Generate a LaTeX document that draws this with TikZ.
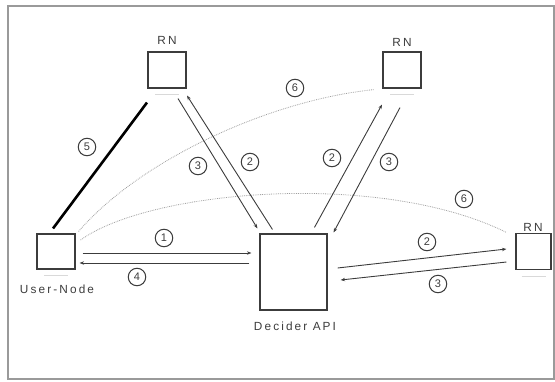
\documentclass[tikz,border=0pt]{standalone}
\usepackage{fontspec}
\usetikzlibrary{arrows.meta,calc}
\newfontfamily\lblfont[LetterSpace=18]{Liberation Sans}
\newfontfamily\numfont{Liberation Sans}
\definecolor{ln}{HTML}{3C3C3C}
\definecolor{fr}{HTML}{9A9A9A}
\begin{document}
\begin{tikzpicture}[x=1pt,y=-1pt,
  pc/.style={draw=ln,line width=1.1pt,inner sep=0pt,fill=white},
  lbl/.style={font=\lblfont\fontsize{11.8}{13}\selectfont,text=ln,inner sep=0pt},
  num/.style={circle,draw=ln,line width=1pt,inner sep=0pt,minimum size=17.5pt,font=\numfont\fontsize{11}{12}\selectfont,text=ln},
  arr/.style={draw=ln,line width=0.9pt,-{Stealth[length=4.5pt,width=3.4pt]}},
  heavy/.style={draw=black,line width=2.6pt},
  dots/.style={draw=gray!75,line width=0.8pt,densely dotted},
  stand/.style={draw=gray!30,line width=0.8pt}]
\useasboundingbox (0,0) rectangle (555,381);
\draw[fr,line width=1.4pt] (8,6) rectangle (554,379);

% computers
\node[pc,minimum width=38pt,minimum height=36pt] (rn1) at (167,70) {};
\node[pc,minimum width=38pt,minimum height=36pt] (rn2) at (402,70) {};
\node[pc,minimum width=35pt,minimum height=36pt] (rn3) at (533.5,251.5) {};
\node[pc,minimum width=38pt,minimum height=35pt] (un) at (56,251.5) {};
\node[pc,minimum width=67pt,minimum height=76pt] (dec) at (293.5,272) {};

% faint stands
\draw[stand] ($(rn1.south)+(-12,6)$) -- ($(rn1.south)+(12,6)$);
\draw[stand] ($(rn2.south)+(-12,6)$) -- ($(rn2.south)+(12,6)$);
\draw[stand] ($(rn3.south)+(-12,6)$) -- ($(rn3.south)+(12,6)$);
\draw[stand] ($(un.south)+(-12,6)$) -- ($(un.south)+(12,6)$);

% labels
\node[lbl] (t1) at (167,40) {RN};
\node[lbl] (t2) at (402,42) {RN};
\node[lbl] (t3) at (533,227) {RN};
\node[lbl] (tu) at (57,289) {User-Node};
\node[lbl] (td) at (295,326) {Decider API};

% dotted curves (6)
\draw[dots] ($(un.north east)+(3,-2)$) .. controls (140,160) and (270,100) .. ($(rn2.south west)+(-8,1)$);
\draw[dots] ($(un.east)+(5,-11.5)$) .. controls (150,190) and (380,170) .. ($(rn3.north west)+(-9,-0.5)$);

% 5 heavy line
\draw[heavy] ($(un.north)+(-3,-5)$) -- ($(rn1.south)+(-20,14)$);

% 1 and 4
\draw[arr] ($(un.east)+(7,1.5)$) -- ($(dec.west)+(-8,-19)$);
\draw[arr] ($(dec.west)+(-10,-9)$) -- ($(un.east)+(4,11.5)$);

% RN1 <-> Decider
\draw[arr] ($(rn1.south)+(11,10)$) -- ($(dec.north west)+(-2,-5)$);
\draw[arr] ($(dec.north west)+(13,-4)$) -- ($(rn1.south)+(20,7)$);

% RN2 <-> Decider
\draw[arr] ($(dec.north west)+(55,-6)$) -- ($(rn2.south)+(-20,16)$);
\draw[arr] ($(rn2.south)+(-2,19)$) -- ($(dec.north east)+(6,-1)$);

% RN3 <-> Decider
\draw[arr] ($(dec.east)+(10,-4)$) -- ($(rn3.west)+(-9,-2.5)$);
\draw[arr] ($(rn3.west)+(-9,10.5)$) -- ($(dec.east)+(13,8)$);

% numbers
\node[num] (n1) at (164,238) {1};
\node[num] (n4) at (137,277) {4};
\node[num] (n5) at (87,147) {5};
\node[num] (n3a) at (198,166) {3};
\node[num] (n2a) at (250,162) {2};
\node[num] (n2b) at (332,158) {2};
\node[num] (n3b) at (389,162) {3};
\node[num] (n2c) at (427,242) {2};
\node[num] (n3c) at (438,284) {3};
\node[num] (n6a) at (295,88) {6};
\node[num] (n6b) at (464,199) {6};
\end{tikzpicture}
\end{document}
